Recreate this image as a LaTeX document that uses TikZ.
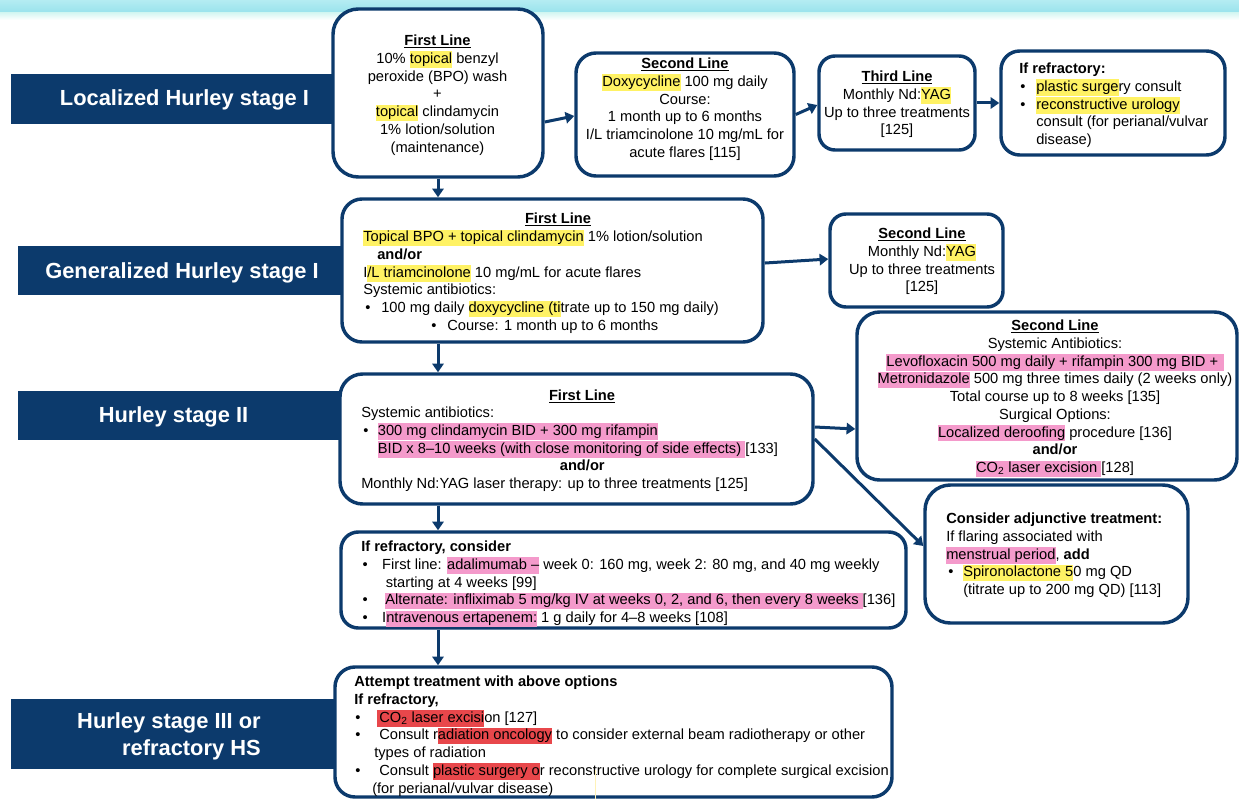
\documentclass[tikz,border=0pt]{standalone}
\usepackage{fontspec}
\setmainfont{Liberation Sans}
\usetikzlibrary{fit,arrows.meta}
\definecolor{navy}{HTML}{0C3A6C}
\definecolor{hly}{HTML}{FFF264}
\definecolor{hlp}{HTML}{F49ACB}
\definecolor{hlr}{HTML}{E8474B}
\definecolor{banA}{HTML}{B4ECF2}
\definecolor{banB}{HTML}{98E2EC}
\definecolor{banC}{HTML}{D6F7F3}
\definecolor{paleY}{HTML}{FFF2B8}
\newcommand\hstr{\rule[-3.3pt]{0pt}{12.3pt}}
\newcommand\hly[1]{{\setlength{\fboxsep}{0pt}\colorbox{hly}{\hstr#1}}}
\newcommand\hlp[1]{{\setlength{\fboxsep}{0pt}\colorbox{hlp}{\hstr#1}}}
\newcommand\hlr[1]{{\setlength{\fboxsep}{0pt}\colorbox{hlr}{\hstr#1}}}
\newcommand\bul[1]{\makebox[#1][l]{\textbullet}}
\begin{document}
\begin{tikzpicture}[x=0.75pt,y=-0.75pt,
 box/.style={draw=navy,line width=2.6pt,fill=white,rounded corners=15pt,inner sep=0pt},
 lab/.style={fill=navy,draw=none,inner sep=0pt},
 labtxt/.style={text=white,inner sep=0pt,font=\fontsize{16.4pt}{20.25pt}\selectfont\bfseries},
 txt/.style={inner sep=0pt,font=\fontsize{11pt}{13.3pt}\selectfont,align=center,anchor=north},
 ltxt/.style={inner sep=0pt,font=\fontsize{11pt}{13.3pt}\selectfont,align=left,anchor=north west},
 arr/.style={draw=navy,line width=2.25pt,-{Triangle[length=6.5pt,width=8.5pt]}}]
\useasboundingbox (0,0) rectangle (1239,799);
% banner
\fill[top color=banA,bottom color=banB] (0,0) rectangle (1239,13);
\fill[top color=banC,bottom color=white] (0,13) rectangle (1239,20);
% stage labels
\node[lab,fit={(11,74)(345,124)}] (l1) {};
\node[labtxt,anchor=base] (l1t) at (184.5,106) {Localized Hurley stage I};
\node[lab,fit={(18,246)(352,295)}] (l2) {};
\node[labtxt,anchor=base] (l2t) at (182,278.5) {Generalized Hurley stage I};
\node[lab,fit={(18,391)(350,440)}] (l3) {};
\node[labtxt,anchor=base] (l3t) at (173.5,422.5) {Hurley stage II};
\node[lab,fit={(11,699)(345,769)}] (l4) {};
\node[labtxt,align=right,anchor=north east] (l4t) at (261,709.6) {\strut Hurley stage III or\\refractory HS};
% boxes
\node[box,rounded corners=19pt,fit={(333,9)(543,177)}] (b1) {};
\node[box,fit={(576,53)(794,176)}] (b2) {};
\node[box,rounded corners=12pt,fit={(819,56)(975,150)}] (b3) {};
\node[box,rounded corners=14pt,fit={(1001,51)(1225,155)}] (b4) {};
\node[box,fit={(342,199)(763,342)}] (b5) {};
\node[box,rounded corners=12pt,fit={(830,214)(1003,307)}] (b6) {};
\node[box,rounded corners=17pt,fit={(857,312)(1237,480)}] (b7) {};
\node[box,rounded corners=17pt,fit={(340,374)(813,504)}] (b8) {};
\node[box,rounded corners=13pt,fit={(341,532)(906,628)}] (b9) {};
\node[box,rounded corners=19pt,fit={(925,485)(1188,623)}] (b10) {};
\node[box,fit={(335,667)(892,797)}] (b11) {};
% texts
\node[txt] (t1) at (437.5,33) {\strut\underline{\textbf{First Line}}\\
10\% \hly{topical} benzyl\\
peroxide (BPO) wash\\
+\\
\hly{topical} clindamycin\\
1\% lotion/solution\\
(maintenance)};
\node[txt] (t2) at (685,56) {\strut\underline{\textbf{Second Line}}\\
\hly{Doxycycline} 100 mg daily\\
Course:\\
1 month up to 6 months\\
I/L triamcinolone 10 mg/mL for\\
acute flares [115]};
\node[txt] (t3) at (897,69) {\strut\underline{\textbf{Third Line}}\\
Monthly Nd:\hly{YAG}\\
Up to three treatments\\
{[125]}};
\node[ltxt] (t4) at (1019,61) {\strut\textbf{If refractory:}\\
\hspace*{0.75pt}\bul{12pt}\hly{plastic surge}ry consult\\
\hspace*{0.75pt}\bul{12pt}\hly{reconstructive urology}\\
\hspace*{12.75pt}consult (for perianal/vulvar\\
\hspace*{12.75pt}disease)};
\node[txt] (t5h) at (558,211) {\strut\underline{\textbf{First Line}}};
\node[ltxt] (t5) at (363,229) {\strut\hly{Topical BPO + topical clindamycin} 1\% lotion/solution\\
\hspace*{10.5pt}\textbf{and/or}\\
I\hly{/L triamcinolone} 10 mg/mL for acute flares\\
Systemic antibiotics:\\
\hspace*{1.5pt}\bul{12pt}100 mg daily \hly{doxycycline (ti}trate up to 150 mg daily)\\
\hspace*{51pt}\bul{12pt}Course: 1 month up to 6 months};
\node[txt] (t6) at (922,226) {\strut\underline{\textbf{Second Line}}\\
Monthly Nd:\hly{YAG}\\
Up to three treatments\\
{[125]}};
\node[txt] (t7) at (1055,318) {\strut\underline{\textbf{Second Line}}\\
Systemic Antibiotics:\\
\hlp{Levofloxacin 500 mg daily + rifampin 300 mg BID +\kern4pt}\\
\hlp{Metronidazole} 500 mg three times daily (2 weeks only)\\
Total course up to 8 weeks [135]\\
Surgical Options:\\
\hlp{Localized deroofing} procedure [136]\\
\textbf{and/or}\\
\hlp{CO\textsubscript{2} laser excision }[128]};
\node[txt] (t8h) at (582,388) {\strut\underline{\textbf{First Line}}};
\node[ltxt] (t8) at (361,405) {\strut Systemic antibiotics:\\
\hspace*{1.5pt}\bul{11pt}\hlp{300 mg clindamycin BID + 300 mg rifampin}\\
\hspace*{12.5pt}\hlp{BID x 8–10 weeks (with close monitoring of side effects) }[133]\\
\makebox[331.5pt][c]{\textbf{and/or}}\\
Monthly Nd:YAG laser therapy: up to three treatments [125]};
\node[ltxt] (t9) at (361,539) {\strut\textbf{If refractory, consider}\\
\hspace*{1.1pt}\bul{14.6pt}First line: \hlp{adalimumab –} week 0: 160 mg, week 2: 80 mg, and 40 mg weekly\\
\hspace*{18.4pt}starting at 4 weeks [99]\\
\hspace*{1.1pt}\bul{16.9pt}\hlp{Alternate: infliximab 5 mg/kg IV at weeks 0, 2, and 6, then every 8 weeks }[136]\\
\hspace*{1.1pt}\bul{14.6pt}I\hlp{ntravenous ertapenem:} 1 g daily for 4–8 weeks [108]};
\node[ltxt] (t10) at (946,511) {\strut\textbf{Consider adjunctive treatment:}\\
If flaring associated with\\
\hlp{menstrual period}, \textbf{add}\\
\hspace*{1.5pt}\bul{11.25pt}\hly{Spironolactone 5}0 mg QD\\
\hspace*{12.75pt}(titrate up to 200 mg QD) [113]};
\node[ltxt] (t11) at (354,674) {\strut\textbf{Attempt treatment with above options}\\
\textbf{If refractory,}\\
\hspace*{0.75pt}\bul{16.1pt}\hlr{\kern1.9pt CO\textsubscript{2} laser excisi}on [127]\\
\hspace*{0.75pt}\bul{18pt}Consult r\hlr{adiation oncology} to consider external beam radiotherapy or other\\
\hspace*{15pt}types of radiation\\
\hspace*{0.75pt}\bul{18pt}Consult \hlr{plastic surgery o}r reconstructive urology for complete surgical excision\\
\hspace*{13.5pt}(for perianal/vulvar disease)};
\draw[paleY,line width=0.8pt] (595.5,770) -- (595.5,799);
% connectors
\draw[arr] ([yshift=-21.75pt]b1.east) -- ([yshift=-1.1pt]b2.west);
\draw[arr] (b2.east) -- ([yshift=-1.5pt]b3.west);
\draw[arr] (b3.east) -- (b4.west);
\draw[arr] ([yshift=5.6pt]b5.east) -- ([yshift=1.1pt]b6.west);
\draw[arr] ([yshift=9pt]b8.east) -- ([yshift=-24.75pt]b7.west);
\draw[arr] (b8.east) -- ([yshift=6pt]b10.west);
\draw[arr] (b1.south) -- (b5.north -| b1.south);
\draw[arr] (b5.south -| b1.south) -- (b8.north -| b1.south);
\draw[arr] (b8.south -| b1.south) -- (b9.north -| b1.south);
\draw[arr] (b9.south -| b1.south) -- (b11.north -| b1.south);
\end{tikzpicture}
\end{document}
